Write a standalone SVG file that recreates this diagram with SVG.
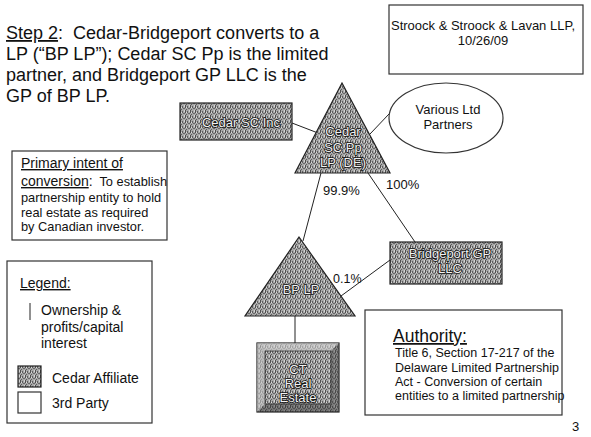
<svg xmlns="http://www.w3.org/2000/svg" width="591" height="437" viewBox="0 0 591 437">
<defs>
<pattern id="ht" width="5" height="5" patternUnits="userSpaceOnUse">
<rect width="5" height="5" fill="#a6a6a6"/>
<rect x="0" y="0" width="1" height="3" fill="#4f4f4f"/>
<rect x="2" y="1" width="1" height="2" fill="#5e5e5e"/>
<rect x="3" y="3" width="2" height="1" fill="#6a6a6a"/>
<rect x="1" y="4" width="1" height="1" fill="#5a5a5a"/>
<rect x="4" y="0" width="1" height="2" fill="#d4d4d4"/>
<rect x="1" y="2" width="1" height="1" fill="#dcdcdc"/>
</pattern>
<style>
text{font-family:"Liberation Sans",Arial,sans-serif;fill:#111}
.t18{font-size:18px}
.t13{font-size:13px}
.t12{font-size:12.5px}
.t14{font-size:14px}
.s{font-size:12.8px}
.box{fill:#fff;stroke:#333;stroke-width:1.2}
.sh{fill:url(#ht);stroke:#222;stroke-width:1.2}
.lbl{font-size:13px;fill:#f2f2f2;stroke:#111;stroke-width:1.6;paint-order:stroke;text-anchor:middle}
.ln{stroke:#222;stroke-width:1;fill:none}
.u{text-decoration:underline}
</style>
</defs>
<rect width="591" height="437" fill="#fff"/>

<g id="title">
<text class="t18" x="6" y="39"><tspan class="u">Step 2</tspan>:&#160; Cedar-Bridgeport converts to a</text>
<text class="t18" x="6" y="60">LP (“BP LP”); Cedar SC Pp is the limited</text>
<text class="t18" x="6" y="81">partner, and Bridgeport GP LLC is the</text>
<text class="t18" x="6" y="102">GP of BP LP.</text>
</g>

<g id="stroock">
<rect class="box" x="389" y="5" width="194" height="69"/>
<text class="t13" x="483" y="30" text-anchor="middle">Stroock &amp; Stroock &amp; Lavan LLP,</text>
<text class="t13" x="483" y="45" text-anchor="middle">10/26/09</text>
</g>

<g id="connectors">
<line class="ln" x1="292" y1="123" x2="318" y2="133"/>
<line class="ln" x1="389" y1="114" x2="370" y2="134"/>
<line class="ln" x1="321" y1="173" x2="303" y2="241"/>
<line class="ln" x1="368" y1="173" x2="415" y2="242"/>
<line class="ln" x1="390" y1="260" x2="341" y2="296"/>
<line class="ln" x1="295" y1="316" x2="295" y2="343"/>
<text class="t13" x="323" y="195">99.9%</text>
<text class="t13" x="386" y="189">100%</text>
<text class="t12" x="333" y="283">0.1%</text>
</g>

<g id="cedar-sc-inc">
<rect class="sh" x="180" y="103" width="112" height="37"/>
<text class="lbl" x="241" y="127">Cedar SC Inc</text>
</g>

<g id="various">
<ellipse cx="446" cy="118" rx="57" ry="35" class="box"/>
<text class="t13" x="448" y="114" text-anchor="middle">Various Ltd</text>
<text class="t13" x="448" y="129" text-anchor="middle">Partners</text>
</g>

<g id="cedar-sc-pp">
<polygon class="sh" points="342,83 390,173 295,173"/>
<text class="lbl" x="343" y="136">Cedar</text>
<text class="lbl" x="343" y="152">SC Pp</text>
<text class="lbl" x="343" y="167">LP (DE)</text>
</g>

<g id="bridgeport">
<rect class="sh" x="390" y="242" width="112" height="42"/>
<text class="lbl" x="450" y="258">Bridgeport GP</text>
<text class="lbl" x="450" y="273">LLC</text>
</g>

<g id="bp-lp">
<polygon class="sh" points="299,237 355,316 245,316"/>
<text class="lbl" x="301" y="294">BP LP</text>
</g>

<g id="ct-real-estate">
<rect class="sh" x="257" y="343" width="82" height="69"/>
<polygon points="257,343 339,343 331,351 265,351" fill="#d4d4d4" opacity="0.6"/>
<polygon points="257,343 265,351 265,404 257,412" fill="#c8c8c8" opacity="0.6"/>
<polygon points="339,343 339,412 331,404 331,351" fill="#444" opacity="0.45"/>
<polygon points="257,412 339,412 331,404 265,404" fill="#333" opacity="0.45"/>
<rect x="265" y="351" width="66" height="53" fill="none" stroke="#333" stroke-width="0.8"/>
<text class="lbl" x="298" y="374">CT</text>
<text class="lbl" x="298" y="388">Real</text>
<text class="lbl" x="298" y="402">Estate</text>
</g>

<g id="intent">
<rect class="box" x="12" y="151" width="155" height="89"/>
<text x="21" y="168" class="t14 u">Primary intent of</text>
<text x="21" y="186"><tspan class="t14 u">conversion</tspan><tspan class="t14">:</tspan><tspan class="s">&#160; To establish</tspan></text>
<text x="21" y="202" class="s">partnership entity to hold</text>
<text x="21" y="217" class="s">real estate as required</text>
<text x="21" y="231" class="s">by Canadian investor.</text>
</g>

<g id="legend">
<rect class="box" x="7" y="261" width="145" height="162"/>
<text x="20" y="288" class="t14 u">Legend:</text>
<line class="ln" x1="30" y1="303" x2="30" y2="320"/>
<text x="41" y="315" class="t14">Ownership &amp;</text>
<text x="41" y="332" class="t14">profits/capital</text>
<text x="41" y="348" class="t14">interest</text>
<rect class="sh" x="18" y="366" width="23" height="21"/>
<text x="52" y="383" class="t14">Cedar Affiliate</text>
<rect class="box" x="18" y="392" width="23" height="21"/>
<text x="52" y="408" class="t14">3rd Party</text>
</g>

<g id="authority">
<rect class="box" x="365" y="310" width="197" height="105"/>
<text x="393" y="342" class="u" style="font-size:17.5px">Authority:</text>
<text x="395" y="357" class="t12">Title 6, Section 17-217 of the</text>
<text x="395" y="372" class="t12">Delaware Limited Partnership</text>
<text x="395" y="386" class="t12">Act - Conversion of certain</text>
<text x="395" y="400" class="t12">entities to a limited partnership</text>
</g>

<text x="572" y="431" class="t13">3</text>
</svg>
